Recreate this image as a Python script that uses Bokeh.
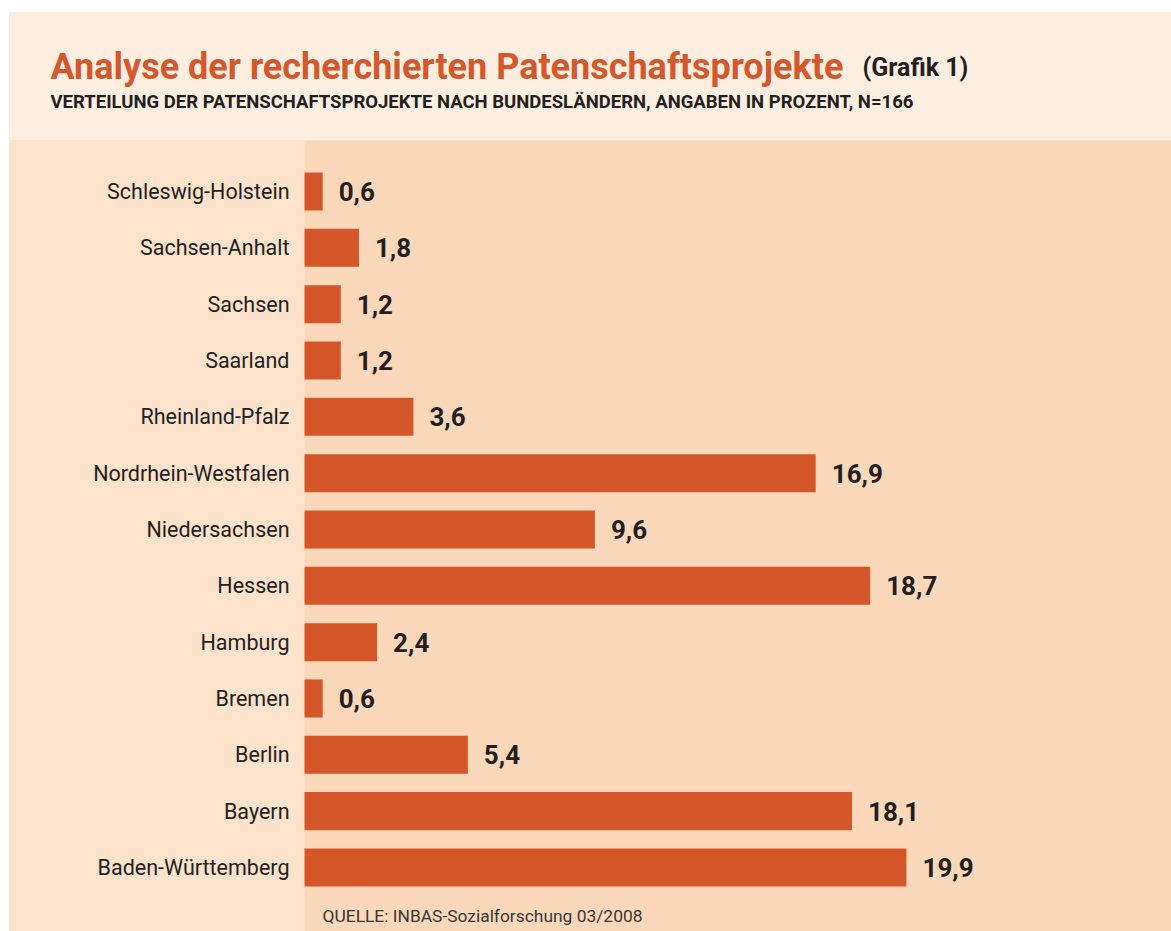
from bokeh.plotting import figure
from bokeh.models import Range1d, ColumnDataSource
from bokeh.core.properties import value
from bokeh.embed import file_html
from bokeh.resources import INLINE

# ---- data (top to bottom as shown) ----
categories = ["Schleswig-Holstein", "Sachsen-Anhalt", "Sachsen", "Saarland",
              "Rheinland-Pfalz", "Nordrhein-Westfalen", "Niedersachsen", "Hessen",
              "Hamburg", "Bremen", "Berlin", "Bayern", "Baden-Württemberg"]
values = [0.6, 1.8, 1.2, 1.2, 3.6, 16.9, 9.6, 18.7, 2.4, 0.6, 5.4, 18.1, 19.9]
value_labels = ["0,6", "1,8", "1,2", "1,2", "3,6", "16,9", "9,6", "18,7",
                "2,4", "0,6", "5,4", "18,1", "19,9"]

title_text = "Analyse der recherchierten Patenschaftsprojekte"
title_tag = "(Grafik 1)"
subtitle_text = "VERTEILUNG DER PATENSCHAFTSPROJEKTE NACH BUNDESLÄNDERN, ANGABEN IN PROZENT, N=166"
source_text = "QUELLE: INBAS-Sozialforschung 03/2008"

# ---- colours ----
BAR = "#d45629"
TITLE_ORANGE = "#d4582c"
DARK = "#231f20"
HEADER_BG = "#fdeee0"
LEFT_BG = "#fde2cc"
RIGHT_BG = "#fcd8bb"

# ---- geometry: frame spans x 9..1171 px, y 12..931 px ----
FX0, FX1, FY0, FY1 = 9, 1171, 12, 931
PX_PER_X = 30.25      # pixels per percent
X0_PX = 304           # pixel of value 0
PX_PER_Y = 56.33      # pixels per row
TOP_ROW_PX = 191      # centre of first row
n = len(categories)
ypos = [n - 1 - i for i in range(n)]  # top row has largest index

x_start = (FX0 - X0_PX) / PX_PER_X
x_end = (FX1 - X0_PX) / PX_PER_X
y_end = (n - 1) + (TOP_ROW_PX - FY0) / PX_PER_Y
y_start = (n - 1) - (FY1 - TOP_ROW_PX) / PX_PER_Y

def dx(px):
    return (px - X0_PX) / PX_PER_X

def dy(py):
    return (n - 1) + (TOP_ROW_PX - py) / PX_PER_Y

p = figure(width=1171, height=931, output_backend="svg", toolbar_location=None,
           x_range=Range1d(x_start, x_end), y_range=Range1d(y_start, y_end),
           min_border_left=FX0, min_border_top=FY0, min_border_right=0, min_border_bottom=0)
p.axis.visible = False
p.grid.visible = False
p.outline_line_color = None
p.border_fill_color = "white"
p.background_fill_color = RIGHT_BG

# background panels
p.quad(left=x_start, right=x_end, bottom=dy(140), top=y_end, fill_color=HEADER_BG, line_color=None)
p.quad(left=x_start, right=0, bottom=y_start, top=dy(140), fill_color=LEFT_BG, line_color=None)

src = ColumnDataSource(dict(y=ypos, v=values, cat=categories, lab=value_labels,
                            lx=[v + 16 / PX_PER_X for v in values]))

p.hbar(y="y", left=0, right="v", height=0.675, source=src, fill_color=BAR, line_color=None)

p.text(x="lx", y="y", text="lab", source=src, text_font=value("Roboto"),
       text_font_style="bold", text_font_size="26px", text_color=DARK,
       text_baseline="middle", text_align="left")

p.text(x=dx(289), y="y", text="cat", source=src, text_font=value("Roboto"),
       text_font_size="21.5px", text_color=DARK, text_baseline="middle", text_align="right")

# header texts
p.text(x=[dx(50)], y=[dy(66)], text=[title_text], text_font=value("Roboto"),
       text_font_style="bold", text_font_size="36px", text_color=TITLE_ORANGE,
       text_baseline="alphabetic", text_align="left")
p.text(x=[dx(862)], y=[dy(67)], text=[title_tag], text_font=value("Roboto"),
       text_font_style="bold", text_font_size="25px", text_color=DARK,
       text_baseline="alphabetic", text_align="left")
p.text(x=[dx(50)], y=[dy(101)], text=[subtitle_text], text_font=value("Roboto"),
       text_font_style="bold", text_font_size="18.5px", text_color=DARK,
       text_baseline="alphabetic", text_align="left")
p.text(x=[dx(322)], y=[dy(915)], text=[source_text], text_font=value("Roboto"),
       text_font_size="17.4px", text_color="#3a3536",
       text_baseline="alphabetic", text_align="left")

open("out.html", "w").write(file_html(p, INLINE))
